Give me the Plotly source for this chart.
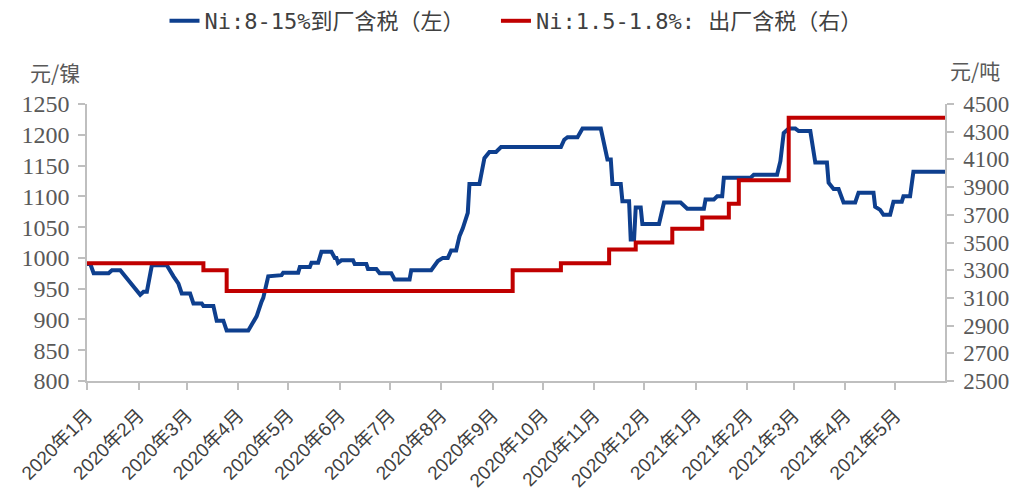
import plotly.graph_objects as go

# 红土镍矿价格 (左轴, 元/镍)
blue_dates = [
    "2020-01-01", "2020-01-03", "2020-01-05", "2020-01-14", "2020-01-16", "2020-01-21",
    "2020-02-02", "2020-02-04", "2020-02-06", "2020-02-09", "2020-02-18", "2020-02-19",
    "2020-02-22", "2020-02-25", "2020-02-27", "2020-03-03", "2020-03-05", "2020-03-10",
    "2020-03-11", "2020-03-17", "2020-03-19", "2020-03-23", "2020-03-25", "2020-04-07",
    "2020-04-09", "2020-04-12", "2020-04-15", "2020-04-16", "2020-04-19", "2020-04-27",
    "2020-04-28", "2020-05-07", "2020-05-08", "2020-05-14", "2020-05-15", "2020-05-19",
    "2020-05-21", "2020-05-27", "2020-05-29", "2020-05-30", "2020-05-31", "2020-06-02",
    "2020-06-09", "2020-06-10", "2020-06-17", "2020-06-18", "2020-06-23", "2020-06-25",
    "2020-07-02", "2020-07-04", "2020-07-13", "2020-07-14", "2020-07-26", "2020-07-28",
    "2020-07-30", "2020-08-02", "2020-08-05", "2020-08-07", "2020-08-10", "2020-08-12",
    "2020-08-14", "2020-08-17", "2020-08-18", "2020-08-24", "2020-08-25", "2020-08-27",
    "2020-08-30", "2020-09-03", "2020-09-06", "2020-10-12", "2020-10-14", "2020-10-16",
    "2020-10-22", "2020-10-25", "2020-11-05", "2020-11-09", "2020-11-11", "2020-11-12",
    "2020-11-17", "2020-11-18", "2020-11-22", "2020-11-23", "2020-11-25", "2020-11-26",
    "2020-11-29", "2020-11-30", "2020-12-10", "2020-12-13", "2020-12-23", "2020-12-27",
    "2021-01-06", "2021-01-07", "2021-01-12", "2021-01-14", "2021-01-17", "2021-01-18",
    "2021-02-03", "2021-02-05", "2021-02-19", "2021-02-21", "2021-02-23", "2021-02-26",
    "2021-03-02", "2021-03-04", "2021-03-11", "2021-03-14", "2021-03-21", "2021-03-22",
    "2021-03-25", "2021-03-28", "2021-03-31", "2021-04-07", "2021-04-09", "2021-04-18",
    "2021-04-19", "2021-04-22", "2021-04-24", "2021-04-28", "2021-04-30", "2021-05-05",
    "2021-05-06", "2021-05-10", "2021-05-12", "2021-05-31",
]
blue_values = [
    990, 990, 975, 975, 980, 980,
    940, 945, 945, 988, 988, 983,
    970, 958, 942, 942, 926, 926,
    922, 922, 898, 898, 882, 882,
    891, 905, 929, 935, 970, 972,
    976, 976, 985, 985, 992, 992,
    1010, 1010, 1000, 1000, 992, 996,
    996, 990, 990, 982, 982, 975,
    975, 965, 965, 980, 980, 988,
    995, 1000, 1000, 1012, 1012, 1035,
    1048, 1073, 1120, 1120, 1132, 1162,
    1172, 1172, 1180, 1180, 1192, 1196,
    1196, 1210, 1210, 1160, 1160, 1120,
    1120, 1092, 1092, 1030, 1030, 1082,
    1082, 1055, 1055, 1090, 1090, 1080,
    1080, 1095, 1095, 1100, 1100, 1130,
    1130, 1135, 1135, 1157, 1203, 1210,
    1210, 1206, 1206, 1155, 1155, 1122,
    1112, 1112, 1090, 1090, 1106, 1106,
    1083, 1078, 1070, 1070, 1091, 1091,
    1100, 1100, 1140, 1140,
]

# 红土镍矿价格 (右轴, 元/吨)
red_dates = [
    "2020-01-01", "2020-03-11", "2020-03-25", "2020-09-13", "2020-10-12", "2020-11-10",
    "2020-11-26", "2020-12-18", "2021-01-05", "2021-01-21", "2021-01-27", "2021-02-26",
    "2021-05-31",
]
red_values = [3350, 3300, 3150, 3300, 3350, 3450, 3500, 3600, 3680, 3780, 3950, 4400, 4400]

tick_dates = [
    "2020-01-01", "2020-02-01", "2020-03-01", "2020-04-01", "2020-05-01", "2020-06-01",
    "2020-07-01", "2020-08-01", "2020-09-01", "2020-10-01", "2020-11-01", "2020-12-01",
    "2021-01-01", "2021-02-01", "2021-03-01", "2021-04-01", "2021-05-01",
]
tick_labels = [
    "2020年1月", "2020年2月", "2020年3月", "2020年4月", "2020年5月", "2020年6月",
    "2020年7月", "2020年8月", "2020年9月", "2020年10月", "2020年11月", "2020年12月",
    "2021年1月", "2021年2月", "2021年3月", "2021年4月", "2021年5月",
]

BLUE = "#0E3F8E"
RED = "#C00000"
AXIS = "#BFBFBF"
serif = "Liberation Serif, DejaVu Serif, serif"
sans = "Liberation Sans, Arial, Noto Sans CJK SC"
cjk = "Noto Sans CJK SC"

fig = go.Figure()
fig.add_trace(go.Scatter(x=blue_dates, y=blue_values, mode="lines",
                         name="Ni:8-15%到厂含税（左）\u00a0\u00a0",
                         line=dict(color=BLUE, width=4)))
fig.add_trace(go.Scatter(x=red_dates, y=red_values, mode="lines", yaxis="y2",
                         name="Ni:1.5-1.8%: 出厂含税（右）",
                         line=dict(color=RED, width=4, shape="hv")))

axis_style = dict(showgrid=False, zeroline=False, showline=True, linecolor=AXIS,
                  linewidth=1.5, ticks="outside", ticklen=7, tickcolor=AXIS,
                  tickwidth=1.5, automargin=False)

fig.update_layout(
    width=1009, height=502,
    margin=dict(l=87, r=64, t=104, b=121),
    paper_bgcolor="white", plot_bgcolor="white",
    showlegend=True,
    legend=dict(orientation="h", x=0.5, xanchor="center", y=1.0, yref="container",
                yanchor="top",
                font=dict(family="DejaVu Sans Mono, Noto Sans CJK SC", size=22,
                          color="#404040"),
                tracegroupgap=0),
    xaxis=dict(type="date", range=["2020-01-01", "2021-05-31"],
               tickvals=tick_dates, ticktext=tick_labels, tickangle=-45,
               ticklabelstandoff=7,
               tickfont=dict(family=sans, size=19, color="#404040"), **axis_style),
    yaxis=dict(range=[800, 1250], dtick=50, tick0=800, ticklabelstandoff=4,
               tickfont=dict(family=serif, size=24, color="#595959"), **axis_style),
    yaxis2=dict(range=[2500, 4500], dtick=200, tick0=2500, overlaying="y", side="right",
                ticklabelstandoff=5,
                tickfont=dict(family=serif, size=23, color="#595959"), **axis_style),
)

fig.add_annotation(text="元/镍", xref="paper", yref="paper", x=-0.069, y=1.116,
                   xanchor="left", yanchor="middle", showarrow=False,
                   font=dict(family=cjk, size=21, color="#595959"))
fig.add_annotation(text="元/吨", xref="paper", yref="paper", x=1.003, y=1.123,
                   xanchor="left", yanchor="middle", showarrow=False,
                   font=dict(family=cjk, size=21, color="#595959"))

fig.write_html("out.html", config={"displayModeBar": False},
               post_script="document.body.style.margin='0px';")
